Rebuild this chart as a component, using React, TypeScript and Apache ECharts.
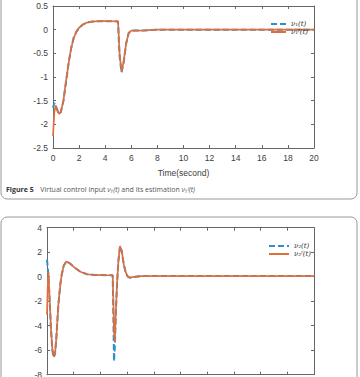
import React, { useEffect, useRef } from "react";
import * as echarts from "echarts";

// Top chart: virtual control input nu1 and its estimation
const t1 = [0, 0.1, 0.2, 0.3, 0.45, 0.6, 0.8, 1.0, 1.2, 1.4, 1.6, 1.8, 2.0, 2.3, 2.6, 3.0, 3.5, 4.0, 4.5, 4.98, 5.0, 5.1, 5.25, 5.4, 5.6, 5.8, 6.0, 6.5, 7.0, 8.0, 10, 15, 20];
const nu1 = [-1.65, -1.55, -1.6, -1.68, -1.78, -1.74, -1.5, -1.1, -0.7, -0.38, -0.15, -0.04, 0.04, 0.11, 0.15, 0.17, 0.18, 0.18, 0.178, 0.175, 0.05, -0.55, -0.9, -0.72, -0.3, -0.07, -0.02, -0.02, -0.015, 0, 0, 0, 0];
const nu1f = [-2.25, -1.75, -1.6, -1.68, -1.78, -1.74, -1.5, -1.08, -0.7, -0.38, -0.17, -0.04, 0.04, 0.11, 0.15, 0.17, 0.18, 0.18, 0.178, 0.175, 0.1, -0.5, -0.88, -0.7, -0.3, -0.07, -0.02, -0.02, -0.015, 0, 0, 0, 0];

// Bottom chart: nu2 and its estimation
const t2 = [0, 0.05, 0.1, 0.2, 0.3, 0.4, 0.5, 0.6, 0.7, 0.85, 1.0, 1.1, 1.25, 1.45, 1.7, 2.0, 2.5, 3.0, 3.5, 4.0, 4.92, 4.97, 5.02, 5.08, 5.15, 5.25, 5.35, 5.47, 5.6, 5.75, 5.9, 6.05, 6.2, 6.5, 7.0, 8, 10, 15, 20];
const nu2 = [1.4, 0.8, 0.2, -2.0, -4.4, -6.0, -6.6, -6.3, -5.0, -2.3, -0.6, 0.14, 0.9, 1.25, 1.1, 0.8, 0.4, 0.2, 0.15, 0.13, 0.12, -3.0, -6.9, -5.8, -3.2, -0.5, 1.3, 2.5, 2.1, 1.0, 0.35, 0.0, -0.08, -0.02, 0.05, 0.05, 0.05, 0.05, 0.05];
const nu2f = [-3.1, -1.0, 0.4, -1.8, -4.2, -5.9, -6.5, -6.3, -5.0, -2.3, -0.6, 0.14, 0.9, 1.25, 1.1, 0.8, 0.4, 0.2, 0.15, 0.13, 0.12, -2.0, -4.5, -5.3, -3.0, -0.5, 1.3, 2.5, 2.1, 1.0, 0.35, 0.0, -0.08, -0.02, 0.05, 0.05, 0.05, 0.05, 0.05];

const xTicksMin = 0;
const xTicksMax = 20;
const xInterval = 2;
const y1Range = [-2.5, 0.5];
const y1Interval = 0.5;
const y2Range = [-8, 4];
const y2Interval = 2;

const names = ["ν₁(t)", "ν₁ᶠ(t)", "ν₂(t)", "ν₂ᶠ(t)"];

const BLUE = "#2E8FCB";
const ORANGE = "#DD6E3E";
const AXIS = "#666";
const LABEL = "#404040";
const FONT = "Liberation Sans";

function zip(t: number[], v: number[]) {
  return t.map((x, i) => [x, v[i]]);
}

export default function App() {
  const ref = useRef<HTMLDivElement>(null);
  useEffect(() => {
    if (!ref.current) return;
    const chart = echarts.init(ref.current, null, { renderer: "svg" });
    const axisCommon = {
      axisLine: { show: true, onZero: false, lineStyle: { color: AXIS, width: 1 } },
      axisTick: { show: true, inside: true, length: 3, lineStyle: { color: AXIS } },
      splitLine: { show: false },
    };
    const xAx = (grid: number, pos: string, labels: boolean, name?: string) => ({
      type: "value",
      gridIndex: grid,
      position: pos,
      min: xTicksMin,
      max: xTicksMax,
      interval: xInterval,
      ...axisCommon,
      axisLabel: { show: labels, color: LABEL, fontSize: 8.5, fontFamily: FONT, margin: 5 },
      name: name,
      nameLocation: "middle",
      nameGap: 20,
      nameTextStyle: { color: LABEL, fontSize: 8.5, fontFamily: FONT },
    });
    const yAx = (grid: number, pos: string, labels: boolean, rng: number[], iv: number) => ({
      type: "value",
      gridIndex: grid,
      position: pos,
      min: rng[0],
      max: rng[1],
      interval: iv,
      ...axisCommon,
      axisLabel: { show: labels, color: LABEL, fontSize: 8.5, fontFamily: FONT, margin: 5 },
    });
    const legendText = { color: "#333", fontSize: 7, fontFamily: "DejaVu Serif", fontStyle: "italic" };
    chart.setOption({
      animation: false,
      backgroundColor: "#fff",
      grid: [
        { left: 53, top: 6, width: 261, height: 142, outerBoundsMode: "none", containLabel: false },
        { left: 47, top: 227.7, width: 267, height: 147, outerBoundsMode: "none", containLabel: false },
      ],
      xAxis: [
        xAx(0, "bottom", true, "Time(second)"),
        xAx(0, "top", false),
        xAx(1, "bottom", false),
        xAx(1, "top", false),
      ],
      yAxis: [
        yAx(0, "left", true, y1Range, y1Interval),
        yAx(0, "right", false, y1Range, y1Interval),
        yAx(1, "left", true, y2Range, y2Interval),
        yAx(1, "right", false, y2Range, y2Interval),
      ],
      legend: [
        {
          data: [names[0], names[1]],
          orient: "vertical",
          left: 265,
          top: 15.5,
          itemWidth: 15,
          itemHeight: 8,
          itemGap: 1,
          itemStyle: { opacity: 0 },
          textStyle: legendText,
        },
        {
          data: [names[2], names[3]],
          orient: "vertical",
          left: 263,
          top: 237.5,
          itemWidth: 20,
          itemHeight: 8,
          itemGap: 1,
          itemStyle: { opacity: 0 },
          textStyle: legendText,
        },
      ],
      series: [
        {
          name: names[0], type: "line", xAxisIndex: 0, yAxisIndex: 0, symbol: "none",
          data: zip(t1, nu1), lineStyle: { color: BLUE, width: 2, type: [6, 3] }, itemStyle: { color: BLUE },
        },
        {
          name: names[1], type: "line", xAxisIndex: 0, yAxisIndex: 0, symbol: "none",
          data: zip(t1, nu1f), lineStyle: { color: ORANGE, width: 1.7 }, itemStyle: { color: ORANGE },
        },
        {
          name: names[2], type: "line", xAxisIndex: 2, yAxisIndex: 2, symbol: "none",
          data: zip(t2, nu2), lineStyle: { color: BLUE, width: 2, type: [6, 3] }, itemStyle: { color: BLUE },
        },
        {
          name: names[3], type: "line", xAxisIndex: 2, yAxisIndex: 2, symbol: "none",
          data: zip(t2, nu2f), lineStyle: { color: ORANGE, width: 1.7 }, itemStyle: { color: ORANGE },
        },
      ],
      graphic: [
        {
          type: "rect",
          shape: { x: 1, y: -20, width: 356, height: 219, r: 6 },
          style: { fill: "none", stroke: "#9a9a9a", lineWidth: 1 },
          silent: true,
          z: -1,
        },
        {
          type: "rect",
          shape: { x: 1, y: 217, width: 356, height: 200, r: 6 },
          style: { fill: "none", stroke: "#9a9a9a", lineWidth: 1 },
          silent: true,
          z: -1,
        },
        {
          type: "text",
          x: 6,
          y: 189,
          style: {
            text: "{b|Figure 5}  {n|Virtual control input }{i|ν₁(t)}{n| and its estimation }{i|ν₁ᶠ(t)}",
            verticalAlign: "middle",
            rich: {
              b: { fontFamily: "Open Sans", fontWeight: "bold", fontSize: 7, fill: "#333" },
              n: { fontFamily: "Open Sans", fontSize: 7, fill: "#555" },
              i: { fontFamily: "Open Sans", fontStyle: "italic", fontSize: 7, fill: "#555" },
            },
          },
        },
      ],
    });
    return () => chart.dispose();
  }, []);
  return (
    <div
      ref={ref}
      style={{ position: "fixed", left: 0, top: 0, width: 360, height: 377 }}
    />
  );
}
